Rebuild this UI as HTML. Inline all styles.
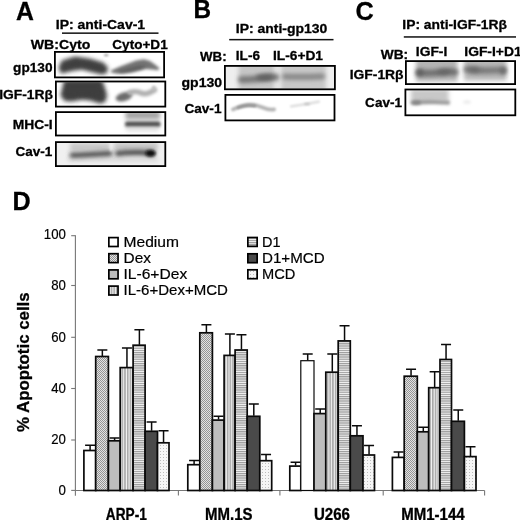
<!DOCTYPE html>
<html lang="en"><head><meta charset="utf-8"><title>Figure: Cav-1 immunoprecipitation and apoptosis</title>
<style>html,body{margin:0;padding:0;background:#fff;overflow:hidden;}svg{display:block;filter:blur(0.4px);}text{font-family:'Liberation Sans', Arial, Helvetica, sans-serif;fill:#000;stroke:#000;stroke-width:0.2px;}.b{font-weight:bold;stroke-width:0.3px;}</style></head><body>
<svg width="520" height="520" viewBox="0 0 520 520">
<defs>
<filter id="b05" filterUnits="userSpaceOnUse" x="0" y="0" width="520" height="520"><feGaussianBlur stdDeviation="0.5"/></filter>
<filter id="b08" filterUnits="userSpaceOnUse" x="0" y="0" width="520" height="520"><feGaussianBlur stdDeviation="0.8"/></filter>
<filter id="b1" filterUnits="userSpaceOnUse" x="0" y="0" width="520" height="520"><feGaussianBlur stdDeviation="1.0"/></filter>
<filter id="b15" filterUnits="userSpaceOnUse" x="0" y="0" width="520" height="520"><feGaussianBlur stdDeviation="1.5"/></filter>
<filter id="b2" filterUnits="userSpaceOnUse" x="0" y="0" width="520" height="520"><feGaussianBlur stdDeviation="2.0"/></filter>
<filter id="b3" filterUnits="userSpaceOnUse" x="0" y="0" width="520" height="520"><feGaussianBlur stdDeviation="3.0"/></filter>
<pattern id="pDex" width="2" height="2" patternUnits="userSpaceOnUse"><rect width="2" height="2" fill="#e2e2e2"/><rect width="1" height="1" fill="#949494"/><rect x="1" y="1" width="1" height="1" fill="#949494"/></pattern>
<pattern id="pV" width="2.7" height="4" patternUnits="userSpaceOnUse"><rect width="2.7" height="4" fill="#f4f4f4"/><rect width="1.6" height="4" fill="#a8a8a8"/></pattern>
<pattern id="pH" width="4" height="2.2" patternUnits="userSpaceOnUse"><rect width="4" height="2.2" fill="#f6f6f6"/><rect width="4" height="1.2" fill="#9a9a9a"/></pattern>
<pattern id="pDot" width="3" height="3" patternUnits="userSpaceOnUse"><rect width="3" height="3" fill="#f6f6f6"/><rect x="1" y="1" width="1" height="1" fill="#bdbdbd"/></pattern>
</defs>
<rect width="520" height="520" fill="#fff"/>
<g id="panelA">
<text x="16.0" y="20.3" font-size="26.2" class="b" textLength="17.9" lengthAdjust="spacingAndGlyphs">A</text>
<text x="55.8" y="28.6" font-size="13.6" class="b" textLength="89.3" lengthAdjust="spacingAndGlyphs">IP: anti-Cav-1</text>
<rect x="62" y="32.4" width="96.5" height="1.5" fill="#111"/>
<text x="30.8" y="49.0" font-size="13.6" class="b" textLength="59.6" lengthAdjust="spacingAndGlyphs">WB:Cyto</text>
<text x="112.3" y="48.8" font-size="13.6" class="b" textLength="55.4" lengthAdjust="spacingAndGlyphs">Cyto+D1</text>
<text x="13.1" y="71.8" font-size="13.6" class="b" textLength="39.4" lengthAdjust="spacingAndGlyphs">gp130</text>
<text x="-0.8" y="98.5" font-size="13.6" class="b" textLength="53.8" lengthAdjust="spacingAndGlyphs">IGF-1Rβ</text>
<text x="12.7" y="128.7" font-size="13.6" class="b" textLength="39.9" lengthAdjust="spacingAndGlyphs">MHC-I</text>
<text x="15.4" y="156.2" font-size="13.6" class="b" textLength="36.9" lengthAdjust="spacingAndGlyphs">Cav-1</text>
<clipPath id="cA1"><rect x="55.60" y="52.60" width="107.80" height="24.10"/></clipPath>
<clipPath id="cA2"><rect x="56.60" y="82.20" width="108.00" height="23.70"/></clipPath>
<clipPath id="cA3"><rect x="56.60" y="112.80" width="108.00" height="22.00"/></clipPath>
<clipPath id="cA4"><rect x="56.60" y="142.80" width="108.00" height="22.60"/></clipPath>
<g clip-path="url(#cA1)">
<path filter="url(#b2)" fill="#424242" d="M58.6,67.5 L61.8,60.6 L75,56.4 L90,58.8 L103,62.4 L108,67.5 L107,73 L101.6,74.4 L90,71.6 L82,69.4 L72.8,70.8 L61,73.4 Z"/>
<path filter="url(#b2)" fill="#3c3c3c" opacity="0.5" d="M62,67 L75,60 L92,62.5 L104,67 L103,71 L88,68.5 L80,66.5 L70,68 L63,70.5 Z"/>
<ellipse filter="url(#b08)" cx="106.2" cy="55.3" rx="2.4" ry="1" fill="#909090"/>
<path filter="url(#b15)" fill="#747474" d="M111,70.4 L120,66.6 L128,63.4 L136,60.4 L144,59.2 L150,61 L155,64.4 L159.5,68.2 L158,70.2 L152,69.4 L146,69 L140,70.6 L132,72.6 L124,73.6 L116,73.6 L111,72.4 Z"/>
<path filter="url(#b15)" fill="#555" opacity="0.7" d="M116,71.6 L128,68.2 L138,65.4 L147,65.6 L141,68.8 L131,71.2 L121,73 Z"/>
</g>
<g clip-path="url(#cA2)">
<path filter="url(#b2)" fill="#404040" d="M64.2,80 L102,80 L105,88 L107,95.3 L105.6,101.6 L100.5,103.8 L90.1,100.4 L82,99.8 L71.6,101.6 L64.4,101 L60.4,95.3 L62.2,88.4 Z"/>
<path filter="url(#b2)" fill="#3c3c3c" opacity="0.45" d="M66,84 L100,84 L103,94 L101,99 L90,96 L80,95.5 L70,97.5 L65,96 Z"/>
<ellipse filter="url(#b15)" cx="124" cy="96.8" rx="8.6" ry="4.2" fill="#6c6c6c" transform="rotate(-16 124 96.8)"/>
<path filter="url(#b15)" fill="none" stroke="#b0b0b0" stroke-width="5.4" stroke-linecap="round" d="M130,92.5 Q136,90.5 141,93 T154.5,90"/>
<ellipse filter="url(#b1)" cx="153.8" cy="88.2" rx="1.8" ry="2.6" fill="#c0c0c0"/>
</g>
<g clip-path="url(#cA3)">
<rect filter="url(#b2)" x="125.5" y="111" width="34.5" height="8.4" fill="#a4a4a4"/>
<rect filter="url(#b15)" x="125" y="121.6" width="35.5" height="5.4" rx="2" fill="#4c4c4c"/>
<rect filter="url(#b2)" x="126" y="127.5" width="33" height="3" fill="#cfcfcf"/>
</g>
<g clip-path="url(#cA4)">
<rect x="55" y="141" width="112" height="27" fill="#f0f0f0"/>
<rect filter="url(#b2)" x="70" y="143" width="40" height="8" fill="#c8c8c8"/>
<rect filter="url(#b2)" x="114" y="142.5" width="44" height="8" fill="#c6c6c6"/>
<rect filter="url(#b2)" x="68" y="157" width="90" height="5" fill="#dcdcdc"/>
<path filter="url(#b2)" fill="none" stroke="#424242" stroke-width="5.0" stroke-linecap="round" d="M72,155.2 Q80,154.8 90,154.4 T110,153.4"/>
<path filter="url(#b2)" fill="none" stroke="#3e3e3e" stroke-width="5.0" stroke-linecap="round" d="M117.5,153.6 Q128,152.2 140,152.6 T152,153.2"/>
<ellipse filter="url(#b15)" cx="150.6" cy="153.3" rx="5.2" ry="3.3" fill="#0c0c0c"/>
<rect filter="url(#b08)" x="110.3" y="143" width="1.4" height="8" fill="#f4f4f4"/>
</g>
<rect x="54.90" y="51.90" width="109.20" height="25.50" fill="none" stroke="#000" stroke-width="1.8"/>
<rect x="55.90" y="81.50" width="109.40" height="25.10" fill="none" stroke="#000" stroke-width="1.8"/>
<rect x="55.90" y="112.10" width="109.40" height="23.40" fill="none" stroke="#000" stroke-width="1.8"/>
<rect x="55.90" y="142.10" width="109.40" height="24.00" fill="none" stroke="#000" stroke-width="1.8"/>
</g>
<g id="panelB">
<text x="193.4" y="18.0" font-size="26.2" class="b" textLength="17.6" lengthAdjust="spacingAndGlyphs">B</text>
<text x="235.8" y="32.5" font-size="13.6" class="b" textLength="91.6" lengthAdjust="spacingAndGlyphs">IP: anti-gp130</text>
<rect x="229.2" y="38.9" width="104.3" height="1.5" fill="#111"/>
<text x="200.0" y="61.2" font-size="13.6" class="b" textLength="26.6" lengthAdjust="spacingAndGlyphs">WB:</text>
<text x="235.8" y="60.2" font-size="13.6" class="b" textLength="24.2" lengthAdjust="spacingAndGlyphs">IL-6</text>
<text x="273.0" y="60.3" font-size="13.6" class="b" textLength="50.0" lengthAdjust="spacingAndGlyphs">IL-6+D1</text>
<text x="181.5" y="87.0" font-size="13.6" class="b" textLength="40.6" lengthAdjust="spacingAndGlyphs">gp130</text>
<text x="184.4" y="113.1" font-size="13.6" class="b" textLength="37.1" lengthAdjust="spacingAndGlyphs">Cav-1</text>
<clipPath id="cB1"><rect x="225.60" y="66.60" width="108.60" height="22.00"/></clipPath>
<clipPath id="cB2"><rect x="226.10" y="95.60" width="107.70" height="24.10"/></clipPath>
<g clip-path="url(#cB1)">
<rect x="224" y="65" width="113" height="26" fill="#eeeeee"/>
<rect filter="url(#b2)" x="238.5" y="62" width="36" height="32" fill="#c6c6c6"/>
<rect filter="url(#b2)" x="281" y="62" width="45" height="32" fill="#c8c8c8"/>
<rect filter="url(#b2)" x="276" y="62" width="3" height="32" fill="#dcdcdc"/>
<path filter="url(#b2)" fill="none" stroke="#767676" stroke-width="6.6" stroke-linecap="round" d="M241.5,79.6 Q252,79.8 262,78 T276,77.2"/>
<ellipse filter="url(#b2)" cx="265" cy="77.6" rx="9" ry="3.2" fill="#5e5e5e"/>
<path filter="url(#b2)" fill="none" stroke="#848484" stroke-width="5.8" stroke-linecap="round" d="M285,76.6 Q300,77.4 322,76.4"/>
</g>
<g clip-path="url(#cB2)">
<path filter="url(#b1)" fill="none" stroke="#b4b4b4" stroke-width="3.8" stroke-linecap="round" d="M233,109.4 Q240,105.8 247,104.8 T262,107.2 T274,109.4"/>
<path filter="url(#b1)" fill="none" stroke="#8e8e8e" stroke-width="2.6" stroke-linecap="round" d="M238,107.6 Q246,104.6 255,106"/>
<path filter="url(#b1)" fill="none" stroke="#dadada" stroke-width="2.2" stroke-linecap="round" d="M291,106.4 Q305,104.6 319,101.6"/>
<ellipse filter="url(#b08)" cx="307" cy="104" rx="3" ry="1.2" fill="#c4c4c4"/>
</g>
<rect x="224.90" y="65.90" width="110.00" height="23.40" fill="none" stroke="#000" stroke-width="1.8"/>
<rect x="225.40" y="94.90" width="109.10" height="25.50" fill="none" stroke="#000" stroke-width="1.8"/>
</g>
<g id="panelC">
<text x="355.6" y="19.9" font-size="26.2" class="b" textLength="18.2" lengthAdjust="spacingAndGlyphs">C</text>
<text x="402.3" y="28.8" font-size="13.6" class="b" textLength="104.7" lengthAdjust="spacingAndGlyphs">IP: anti-IGF-1Rβ</text>
<rect x="403.8" y="36.2" width="112.2" height="1.5" fill="#111"/>
<text x="380.8" y="58.9" font-size="13.6" class="b" textLength="27.4" lengthAdjust="spacingAndGlyphs">WB:</text>
<text x="415.8" y="55.7" font-size="13.6" class="b" textLength="31.5" lengthAdjust="spacingAndGlyphs">IGF-I</text>
<text x="464.3" y="55.7" font-size="13.6" class="b" textLength="57.3" lengthAdjust="spacingAndGlyphs">IGF-I+D1</text>
<text x="349.7" y="78.5" font-size="13.6" class="b" textLength="53.9" lengthAdjust="spacingAndGlyphs">IGF-1Rβ</text>
<text x="365.1" y="107.1" font-size="13.6" class="b" textLength="36.9" lengthAdjust="spacingAndGlyphs">Cav-1</text>
<clipPath id="cC1"><rect x="406.60" y="61.80" width="107.80" height="21.60"/></clipPath>
<clipPath id="cC2"><rect x="406.10" y="90.20" width="108.50" height="24.40"/></clipPath>
<g clip-path="url(#cC1)">
<rect filter="url(#b2)" x="416" y="56" width="41.5" height="25.5" fill="#b4b4b4"/>
<rect filter="url(#b2)" x="464" y="56" width="42.5" height="24.5" fill="#b8b8b8"/>
<path filter="url(#b2)" fill="none" stroke="#6e6e6e" stroke-width="6.6" stroke-linecap="round" d="M419,72.8 Q430,73.6 440,72.2 T455,72.2"/>
<ellipse filter="url(#b2)" cx="420" cy="72.6" rx="3" ry="3.4" fill="#5a5a5a"/>
<ellipse filter="url(#b2)" cx="444" cy="72.2" rx="7" ry="3" fill="#5e5e5e" opacity="0.7"/>
<path filter="url(#b2)" fill="none" stroke="#787878" stroke-width="6.4" stroke-linecap="round" d="M467,69.4 Q480,71 490,70.4 T503.5,70.4"/>
<ellipse filter="url(#b2)" cx="474" cy="69.8" rx="6" ry="3" fill="#626262" opacity="0.7"/>
<ellipse filter="url(#b2)" cx="503" cy="70.6" rx="2.6" ry="3.6" fill="#666"/>
</g>
<g clip-path="url(#cC2)">
<rect filter="url(#b2)" x="411" y="89" width="37.5" height="13" fill="#c8c8c8"/>
<path filter="url(#b15)" fill="none" stroke="#9a9a9a" stroke-width="4.2" stroke-linecap="round" d="M412.5,102.6 Q425,101.6 435,102 T448,102.6"/>
<ellipse filter="url(#b15)" cx="416.5" cy="102.6" rx="4.4" ry="2.2" fill="#848484"/>
<ellipse filter="url(#b15)" cx="467" cy="102" rx="4" ry="1.6" fill="#e8e8e8"/>
</g>
<rect x="405.90" y="61.10" width="109.20" height="23.00" fill="none" stroke="#000" stroke-width="1.8"/>
<rect x="405.40" y="89.50" width="109.90" height="25.80" fill="none" stroke="#000" stroke-width="1.8"/>
</g>
<g id="panelD">
<text x="12.4" y="209.9" font-size="26.2" class="b" textLength="18.2" lengthAdjust="spacingAndGlyphs">D</text>
<g stroke="#777" stroke-width="1.1" fill="none">
<path d="M75.4,235.2 V495.7"/>
<path d="M75.4,490.5 H484.6"/>
<path d="M71.2,490.4 H75.4"/>
<path d="M71.2,440.0 H75.4"/>
<path d="M71.2,388.5 H75.4"/>
<path d="M71.2,337.3 H75.4"/>
<path d="M71.2,285.5 H75.4"/>
<path d="M71.2,235.7 H75.4"/>
<path d="M178.4,490.5 V495.6"/>
<path d="M279.9,490.5 V495.6"/>
<path d="M383.2,490.5 V495.6"/>
<path d="M484.6,490.5 V495.6"/>
</g>
<text x="65.9" y="495.1" font-size="14.4" textLength="7.4" lengthAdjust="spacingAndGlyphs" text-anchor="end">0</text>
<text x="65.9" y="444.3" font-size="14.4" textLength="14.7" lengthAdjust="spacingAndGlyphs" text-anchor="end">20</text>
<text x="65.9" y="392.9" font-size="14.4" textLength="14.7" lengthAdjust="spacingAndGlyphs" text-anchor="end">40</text>
<text x="65.9" y="342.4" font-size="14.4" textLength="14.7" lengthAdjust="spacingAndGlyphs" text-anchor="end">60</text>
<text x="65.9" y="290.2" font-size="14.4" textLength="14.7" lengthAdjust="spacingAndGlyphs" text-anchor="end">80</text>
<text x="65.9" y="239.0" font-size="14.4" textLength="22.1" lengthAdjust="spacingAndGlyphs" text-anchor="end">100</text>
<text class="b" font-size="17.0" transform="translate(28.9 432) rotate(-90)" textLength="139.6" lengthAdjust="spacingAndGlyphs">% Apoptotic cells</text>
<text x="105.8" y="520.3" font-size="16.1" class="b" textLength="41.0" lengthAdjust="spacingAndGlyphs">ARP-1</text>
<text x="205.0" y="520.3" font-size="16.1" class="b" textLength="47.5" lengthAdjust="spacingAndGlyphs">MM.1S</text>
<text x="314.0" y="520.3" font-size="16.1" class="b" textLength="36.0" lengthAdjust="spacingAndGlyphs">U266</text>
<text x="401.2" y="520.3" font-size="16.1" class="b" textLength="63.4" lengthAdjust="spacingAndGlyphs">MM1-144</text>
<rect x="108.85" y="237.60" width="9.2" height="8.9" fill="#fff" stroke="#000" stroke-width="1.7"/>
<text x="123.5" y="246.5" font-size="15.3" textLength="55.4" lengthAdjust="spacingAndGlyphs">Medium</text>
<rect x="108.85" y="253.70" width="9.2" height="8.9" fill="url(#pDex)" stroke="#000" stroke-width="1.7"/>
<text x="123.5" y="262.6" font-size="15.3" textLength="27.4" lengthAdjust="spacingAndGlyphs">Dex</text>
<rect x="108.85" y="269.90" width="9.2" height="8.9" fill="#bdbdbd" stroke="#000" stroke-width="1.7"/>
<text x="123.5" y="278.8" font-size="15.3" textLength="63.7" lengthAdjust="spacingAndGlyphs">IL-6+Dex</text>
<rect x="108.85" y="286.10" width="9.2" height="8.9" fill="url(#pV)" stroke="#000" stroke-width="1.7"/>
<text x="123.5" y="295.0" font-size="15.3" textLength="104.4" lengthAdjust="spacingAndGlyphs">IL-6+Dex+MCD</text>
<rect x="247.85" y="237.50" width="9.3" height="8.9" fill="url(#pH)" stroke="#000" stroke-width="1.7"/>
<text x="262.0" y="246.7" font-size="15.3" textLength="18.5" lengthAdjust="spacingAndGlyphs">D1</text>
<rect x="247.85" y="253.80" width="9.3" height="8.9" fill="#4a4a4a" stroke="#000" stroke-width="1.7"/>
<text x="262.0" y="263.0" font-size="15.3" textLength="62.7" lengthAdjust="spacingAndGlyphs">D1+MCD</text>
<rect x="247.85" y="269.80" width="9.3" height="8.9" fill="url(#pDot)" stroke="#000" stroke-width="1.7"/>
<text x="262.0" y="279.0" font-size="15.3" textLength="33.3" lengthAdjust="spacingAndGlyphs">MCD</text>
<g stroke="#0a0a0a" stroke-width="1.7">
<rect x="83.90" y="450.50" width="11.80" height="40.00" fill="#fff"/>
<rect x="95.70" y="356.50" width="12.70" height="134.00" fill="url(#pDex)"/>
<rect x="108.40" y="440.80" width="11.80" height="49.70" fill="#bdbdbd"/>
<rect x="120.20" y="367.60" width="12.90" height="122.90" fill="url(#pV)"/>
<rect x="133.10" y="345.20" width="12.00" height="145.30" fill="url(#pH)"/>
<rect x="145.10" y="431.30" width="12.40" height="59.20" fill="#4a4a4a"/>
<rect x="157.50" y="442.80" width="11.50" height="47.70" fill="url(#pDot)"/>
<path fill="none" stroke-width="1.5" d="M90.10,450.00 V445.30 M85.10,445.30 H95.10 M102.35,356.00 V350.00 M97.35,350.00 H107.35 M114.60,440.30 V437.90 M109.60,437.90 H119.60 M126.95,367.10 V348.00 M121.95,348.00 H131.95 M139.40,344.70 V329.80 M134.40,329.80 H144.40 M151.60,430.80 V422.10 M146.60,422.10 H156.60 M163.55,442.30 V430.80 M158.55,430.80 H168.55"/>
</g>
<g stroke="#0a0a0a" stroke-width="1.7">
<rect x="187.80" y="464.70" width="12.00" height="25.80" fill="#fff"/>
<rect x="199.80" y="332.80" width="12.60" height="157.70" fill="url(#pDex)"/>
<rect x="212.40" y="420.10" width="11.70" height="70.40" fill="#bdbdbd"/>
<rect x="224.10" y="355.40" width="11.00" height="135.10" fill="url(#pV)"/>
<rect x="235.10" y="350.00" width="12.10" height="140.50" fill="url(#pH)"/>
<rect x="247.20" y="416.30" width="12.60" height="74.20" fill="#4a4a4a"/>
<rect x="259.80" y="460.70" width="11.90" height="29.80" fill="url(#pDot)"/>
<path fill="none" stroke-width="1.5" d="M194.10,464.20 V460.60 M189.10,460.60 H199.10 M206.40,332.30 V324.80 M201.40,324.80 H211.40 M218.55,419.60 V416.20 M213.55,416.20 H223.55 M229.90,354.90 V333.90 M224.90,333.90 H234.90 M241.45,349.50 V334.70 M236.45,334.70 H246.45 M253.80,415.80 V404.00 M248.80,404.00 H258.80 M266.05,460.20 V454.50 M261.05,454.50 H271.05"/>
</g>
<g stroke="#0a0a0a" stroke-width="1.7">
<rect x="289.80" y="466.10" width="11.00" height="24.40" fill="#fff"/>
<rect x="300.80" y="360.70" width="13.20" height="129.80" fill="#fff" stroke-width="1.2"/>
<rect x="314.00" y="413.60" width="11.80" height="76.90" fill="#bdbdbd"/>
<rect x="325.80" y="372.20" width="12.40" height="118.30" fill="url(#pV)"/>
<rect x="338.20" y="340.90" width="12.10" height="149.60" fill="url(#pH)"/>
<rect x="350.30" y="435.80" width="12.70" height="54.70" fill="#4a4a4a"/>
<rect x="363.00" y="455.00" width="11.50" height="35.50" fill="url(#pDot)"/>
<path fill="none" stroke-width="1.5" d="M295.60,465.60 V462.20 M290.60,462.20 H300.60 M307.70,360.20 V354.10 M302.70,354.10 H312.70 M320.20,413.10 V409.10 M315.20,409.10 H325.20 M332.30,371.70 V354.10 M327.30,354.10 H337.30 M344.55,340.40 V325.80 M339.55,325.80 H349.55 M356.95,435.30 V425.80 M351.95,425.80 H361.95 M369.05,454.50 V445.40 M364.05,445.40 H374.05"/>
</g>
<g stroke="#0a0a0a" stroke-width="1.7">
<rect x="392.40" y="457.40" width="11.80" height="33.10" fill="#fff"/>
<rect x="404.20" y="376.20" width="13.10" height="114.30" fill="url(#pDex)"/>
<rect x="417.30" y="431.80" width="11.40" height="58.70" fill="#bdbdbd"/>
<rect x="428.70" y="387.70" width="11.30" height="102.80" fill="url(#pV)"/>
<rect x="440.00" y="359.50" width="11.50" height="131.00" fill="url(#pH)"/>
<rect x="451.50" y="421.30" width="12.90" height="69.20" fill="#4a4a4a"/>
<rect x="464.40" y="456.60" width="11.60" height="33.90" fill="url(#pDot)"/>
<path fill="none" stroke-width="1.5" d="M398.60,456.90 V452.10 M393.60,452.10 H403.60 M411.05,375.70 V369.30 M406.05,369.30 H416.05 M423.30,431.30 V427.30 M418.30,427.30 H428.30 M434.65,387.20 V371.70 M429.65,371.70 H439.65 M446.05,359.00 V344.40 M441.05,344.40 H451.05 M458.25,420.80 V410.10 M453.25,410.10 H463.25 M470.50,456.10 V446.80 M465.50,446.80 H475.50"/>
</g>
</g>
</svg></body></html>
